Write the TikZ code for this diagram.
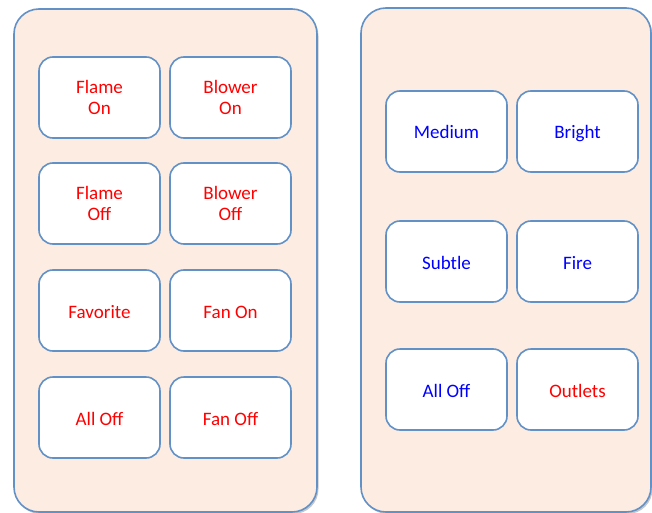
\documentclass[tikz,border=0pt]{standalone}
\usepackage{fontspec}
\setmainfont{Carlito}
\usetikzlibrary{positioning}

\definecolor{panelfill}{RGB}{253,236,225}
\definecolor{edgeblue}{RGB}{98,145,200}

\tikzset{
  panel/.style={rectangle, rounded corners=25pt, draw=edgeblue, line width=1.6pt, fill=panelfill},
  panelshade/.style={rectangle, rounded corners=25pt, fill=black!22},
  btn/.style={rectangle, rounded corners=14pt, draw=edgeblue, line width=1.6pt, fill=white,
    minimum width=121pt, minimum height=81pt, inner sep=0pt, outer sep=0pt, align=center,
    font=\fontsize{19}{21}\selectfont},
  oneline/.style={text height=16pt, text depth=1pt},
  redtxt/.style={btn, text=red},
  bluetxt/.style={btn, text=blue}
}

\begin{document}
\begin{tikzpicture}[x=1pt, y=-1pt]
\useasboundingbox (0,0) rectangle (652,513);

% shadows under the remotes
\node (lshade) [panelshade, minimum width=303pt, minimum height=503pt] at (167,262.5) {};
\node (rshade) [panelshade, minimum width=290pt, minimum height=504pt] at (507.5,262) {};

% the two remotes
\node (left) [panel, minimum width=303pt, minimum height=503pt] at (165.5,260.5) {};
\node (right) [panel, minimum width=290pt, minimum height=504pt] at (506,260) {};

% left remote
\node (flameon) [redtxt] at (99.5,97.5) {Flame\\On};
\node (bloweron) [redtxt, right=10pt of flameon] {Blower\\On};
\node (flameoff) [redtxt, below=25pt of flameon] {Flame\\Off};
\node (bloweroff) [redtxt, right=10pt of flameoff] {Blower\\Off};
\node (fav) [redtxt, oneline, below=26pt of flameoff] {Favorite};
\node (fanon) [redtxt, oneline, right=10pt of fav] {Fan On};
\node (alloffl) [redtxt, oneline, below=26pt of fav] {All Off};
\node (fanoff) [redtxt, oneline, right=10pt of alloffl] {Fan Off};

% right remote
\node (medium) [bluetxt, oneline] at (446.5,131.5) {Medium};
\node (bright) [bluetxt, oneline, right=10pt of medium] {Bright};
\node (subtle) [bluetxt, oneline, below=49pt of medium] {Subtle};
\node (fire) [bluetxt, oneline, right=10pt of subtle] {Fire};
\node (alloffr) [bluetxt, oneline, below=47pt of subtle] {All Off};
\node (outlets) [redtxt, oneline, right=10pt of alloffr] {Outlets};

\end{tikzpicture}
\end{document}
